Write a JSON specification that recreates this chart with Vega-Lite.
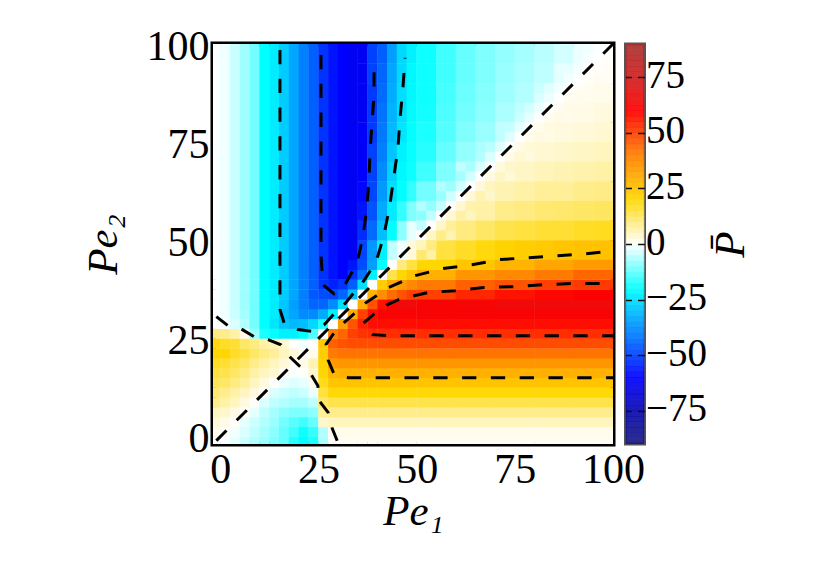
{"$schema":"https://vega.github.io/schema/vega-lite/v6.json","background":"white","padding":{"left":79,"top":22,"right":0,"bottom":0},"bounds":"flush","spacing":12.5,"config":{"view":{"stroke":null},"font":"Liberation Serif"},
"datasets":{
"fine":[
{"x":-1.25,"y":-1.25,"v":0.3},{"x":1.25,"y":-1.25,"v":-0.5},{"x":3.75,"y":-1.25,"v":-2},{"x":6.25,"y":-1.25,"v":-4},{"x":8.75,"y":-1.25,"v":-6},{"x":11.25,"y":-1.25,"v":-8},{"x":13.75,"y":-1.25,"v":-10},{"x":16.25,"y":-1.25,"v":-12},{"x":18.75,"y":-1.25,"v":-17},{"x":21.25,"y":-1.25,"v":-20},{"x":23.75,"y":-1.25,"v":-18},{"x":26.25,"y":-1.25,"v":-6.5},{"x":28.75,"y":-1.25,"v":0.8},{"x":31.25,"y":-1.25,"v":1},{"x":33.75,"y":-1.25,"v":1},{"x":36.25,"y":-1.25,"v":1},{"x":38.75,"y":-1.25,"v":1},{"x":41.25,"y":-1.25,"v":1},{"x":43.75,"y":-1.25,"v":1},{"x":46.25,"y":-1.25,"v":1},{"x":48.75,"y":-1.25,"v":1},
{"x":-1.25,"y":1.25,"v":1},{"x":1.25,"y":1.25,"v":0.8},{"x":3.75,"y":1.25,"v":-1},{"x":6.25,"y":1.25,"v":-3},{"x":8.75,"y":1.25,"v":-5},{"x":11.25,"y":1.25,"v":-7},{"x":13.75,"y":1.25,"v":-9},{"x":16.25,"y":1.25,"v":-12},{"x":18.75,"y":1.25,"v":-15},{"x":21.25,"y":1.25,"v":-19},{"x":23.75,"y":1.25,"v":-16},{"x":26.25,"y":1.25,"v":-6},{"x":28.75,"y":1.25,"v":1.5},{"x":31.25,"y":1.25,"v":1.5},{"x":33.75,"y":1.25,"v":1.5},{"x":36.25,"y":1.25,"v":1.5},{"x":38.75,"y":1.25,"v":1.5},{"x":41.25,"y":1.25,"v":1.5},{"x":43.75,"y":1.25,"v":1.5},{"x":46.25,"y":1.25,"v":1.5},{"x":48.75,"y":1.25,"v":1.5},
{"x":-1.25,"y":3.75,"v":3},{"x":1.25,"y":3.75,"v":1.8},{"x":3.75,"y":3.75,"v":0.5},{"x":6.25,"y":3.75,"v":-2},{"x":8.75,"y":3.75,"v":-4},{"x":11.25,"y":3.75,"v":-6},{"x":13.75,"y":3.75,"v":-8},{"x":16.25,"y":3.75,"v":-11},{"x":18.75,"y":3.75,"v":-13},{"x":21.25,"y":3.75,"v":-15},{"x":23.75,"y":3.75,"v":-12},{"x":26.25,"y":3.75,"v":4},{"x":28.75,"y":3.75,"v":5},{"x":31.25,"y":3.75,"v":5},{"x":33.75,"y":3.75,"v":5},{"x":36.25,"y":3.75,"v":5},{"x":38.75,"y":3.75,"v":5},{"x":41.25,"y":3.75,"v":5},{"x":43.75,"y":3.75,"v":5},{"x":46.25,"y":3.75,"v":5},{"x":48.75,"y":3.75,"v":5},
{"x":-1.25,"y":6.25,"v":5},{"x":1.25,"y":6.25,"v":4},{"x":3.75,"y":6.25,"v":2},{"x":6.25,"y":6.25,"v":0.6},{"x":8.75,"y":6.25,"v":-2},{"x":11.25,"y":6.25,"v":-5},{"x":13.75,"y":6.25,"v":-7},{"x":16.25,"y":6.25,"v":-9},{"x":18.75,"y":6.25,"v":-10},{"x":21.25,"y":6.25,"v":-10},{"x":23.75,"y":6.25,"v":-9},{"x":26.25,"y":6.25,"v":8},{"x":28.75,"y":6.25,"v":9},{"x":31.25,"y":6.25,"v":9},{"x":33.75,"y":6.25,"v":9},{"x":36.25,"y":6.25,"v":9},{"x":38.75,"y":6.25,"v":9},{"x":41.25,"y":6.25,"v":9},{"x":43.75,"y":6.25,"v":9},{"x":46.25,"y":6.25,"v":9},{"x":48.75,"y":6.25,"v":9},
{"x":-1.25,"y":8.75,"v":9},{"x":1.25,"y":8.75,"v":7},{"x":3.75,"y":8.75,"v":5},{"x":6.25,"y":8.75,"v":2.5},{"x":8.75,"y":8.75,"v":0.5},{"x":11.25,"y":8.75,"v":-3},{"x":13.75,"y":8.75,"v":-5},{"x":16.25,"y":8.75,"v":-6},{"x":18.75,"y":8.75,"v":-7},{"x":21.25,"y":8.75,"v":-7},{"x":23.75,"y":8.75,"v":-5},{"x":26.25,"y":8.75,"v":12},{"x":28.75,"y":8.75,"v":14},{"x":31.25,"y":8.75,"v":14},{"x":33.75,"y":8.75,"v":14},{"x":36.25,"y":8.75,"v":14},{"x":38.75,"y":8.75,"v":14},{"x":41.25,"y":8.75,"v":14},{"x":43.75,"y":8.75,"v":14},{"x":46.25,"y":8.75,"v":14},{"x":48.75,"y":8.75,"v":14},
{"x":-1.25,"y":11.25,"v":11},{"x":1.25,"y":11.25,"v":9},{"x":3.75,"y":11.25,"v":7},{"x":6.25,"y":11.25,"v":5},{"x":8.75,"y":11.25,"v":2.5},{"x":11.25,"y":11.25,"v":0.5},{"x":13.75,"y":11.25,"v":-3},{"x":16.25,"y":11.25,"v":-4},{"x":18.75,"y":11.25,"v":-5},{"x":21.25,"y":11.25,"v":-4},{"x":23.75,"y":11.25,"v":-1.5},{"x":26.25,"y":11.25,"v":15},{"x":28.75,"y":11.25,"v":19.5},{"x":31.25,"y":11.25,"v":19.5},{"x":33.75,"y":11.25,"v":19.5},{"x":36.25,"y":11.25,"v":19.5},{"x":38.75,"y":11.25,"v":19.5},{"x":41.25,"y":11.25,"v":19.5},{"x":43.75,"y":11.25,"v":19.5},{"x":46.25,"y":11.25,"v":19.5},{"x":48.75,"y":11.25,"v":19.5},
{"x":-1.25,"y":13.75,"v":13},{"x":1.25,"y":13.75,"v":12},{"x":3.75,"y":13.75,"v":10},{"x":6.25,"y":13.75,"v":8},{"x":8.75,"y":13.75,"v":5},{"x":11.25,"y":13.75,"v":2.5},{"x":13.75,"y":13.75,"v":0.5},{"x":16.25,"y":13.75,"v":-1.5},{"x":18.75,"y":13.75,"v":-2.5},{"x":21.25,"y":13.75,"v":-2},{"x":23.75,"y":13.75,"v":1.5},{"x":26.25,"y":13.75,"v":18},{"x":28.75,"y":13.75,"v":24},{"x":31.25,"y":13.75,"v":24.5},{"x":33.75,"y":13.75,"v":24.5},{"x":36.25,"y":13.75,"v":24.5},{"x":38.75,"y":13.75,"v":24.5},{"x":41.25,"y":13.75,"v":24.5},{"x":43.75,"y":13.75,"v":24.5},{"x":46.25,"y":13.75,"v":24.5},{"x":48.75,"y":13.75,"v":24.5},
{"x":-1.25,"y":16.25,"v":15},{"x":1.25,"y":16.25,"v":14},{"x":3.75,"y":16.25,"v":12},{"x":6.25,"y":16.25,"v":10},{"x":8.75,"y":16.25,"v":7},{"x":11.25,"y":16.25,"v":5},{"x":13.75,"y":16.25,"v":3.5},{"x":16.25,"y":16.25,"v":1},{"x":18.75,"y":16.25,"v":-0.5},{"x":21.25,"y":16.25,"v":0.5},{"x":23.75,"y":16.25,"v":4},{"x":26.25,"y":16.25,"v":20},{"x":28.75,"y":16.25,"v":28},{"x":31.25,"y":16.25,"v":29},{"x":33.75,"y":16.25,"v":29},{"x":36.25,"y":16.25,"v":29},{"x":38.75,"y":16.25,"v":29},{"x":41.25,"y":16.25,"v":29},{"x":43.75,"y":16.25,"v":29},{"x":46.25,"y":16.25,"v":29},{"x":48.75,"y":16.25,"v":29},
{"x":-1.25,"y":18.75,"v":17},{"x":1.25,"y":18.75,"v":16},{"x":3.75,"y":18.75,"v":14},{"x":6.25,"y":18.75,"v":12},{"x":8.75,"y":18.75,"v":9},{"x":11.25,"y":18.75,"v":7},{"x":13.75,"y":18.75,"v":5},{"x":16.25,"y":18.75,"v":3},{"x":18.75,"y":18.75,"v":0.5},{"x":21.25,"y":18.75,"v":2},{"x":23.75,"y":18.75,"v":6},{"x":26.25,"y":18.75,"v":21},{"x":28.75,"y":18.75,"v":34},{"x":31.25,"y":18.75,"v":35},{"x":33.75,"y":18.75,"v":35},{"x":36.25,"y":18.75,"v":35},{"x":38.75,"y":18.75,"v":35},{"x":41.25,"y":18.75,"v":35},{"x":43.75,"y":18.75,"v":35},{"x":46.25,"y":18.75,"v":35},{"x":48.75,"y":18.75,"v":35},
{"x":-1.25,"y":21.25,"v":20},{"x":1.25,"y":21.25,"v":20},{"x":3.75,"y":21.25,"v":17},{"x":6.25,"y":21.25,"v":15},{"x":8.75,"y":21.25,"v":12},{"x":11.25,"y":21.25,"v":10},{"x":13.75,"y":21.25,"v":8},{"x":16.25,"y":21.25,"v":5},{"x":18.75,"y":21.25,"v":3},{"x":21.25,"y":21.25,"v":0.3},{"x":23.75,"y":21.25,"v":1.5},{"x":26.25,"y":21.25,"v":22},{"x":28.75,"y":21.25,"v":41},{"x":31.25,"y":21.25,"v":42},{"x":33.75,"y":21.25,"v":42},{"x":36.25,"y":21.25,"v":42},{"x":38.75,"y":21.25,"v":42},{"x":41.25,"y":21.25,"v":42},{"x":43.75,"y":21.25,"v":42},{"x":46.25,"y":21.25,"v":42},{"x":48.75,"y":21.25,"v":42},
{"x":-1.25,"y":23.75,"v":19},{"x":1.25,"y":23.75,"v":17},{"x":3.75,"y":23.75,"v":16},{"x":6.25,"y":23.75,"v":12},{"x":8.75,"y":23.75,"v":10},{"x":11.25,"y":23.75,"v":7},{"x":13.75,"y":23.75,"v":6},{"x":16.25,"y":23.75,"v":3.5},{"x":18.75,"y":23.75,"v":0.3},{"x":21.25,"y":23.75,"v":-1},{"x":23.75,"y":23.75,"v":0.3},{"x":26.25,"y":23.75,"v":23},{"x":28.75,"y":23.75,"v":45},{"x":31.25,"y":23.75,"v":47},{"x":33.75,"y":23.75,"v":48},{"x":36.25,"y":23.75,"v":48},{"x":38.75,"y":23.75,"v":48},{"x":41.25,"y":23.75,"v":48},{"x":43.75,"y":23.75,"v":48},{"x":46.25,"y":23.75,"v":48},{"x":48.75,"y":23.75,"v":48},
{"x":-1.25,"y":26.25,"v":10},{"x":1.25,"y":26.25,"v":9},{"x":3.75,"y":26.25,"v":7},{"x":6.25,"y":26.25,"v":2},{"x":8.75,"y":26.25,"v":-8},{"x":11.25,"y":26.25,"v":-18},{"x":13.75,"y":26.25,"v":-20},{"x":16.25,"y":26.25,"v":-22},{"x":18.75,"y":26.25,"v":-22},{"x":21.25,"y":26.25,"v":-20},{"x":23.75,"y":26.25,"v":-14},{"x":26.25,"y":26.25,"v":0},{"x":28.75,"y":26.25,"v":40},{"x":31.25,"y":26.25,"v":44},{"x":33.75,"y":26.25,"v":50},{"x":36.25,"y":26.25,"v":52},{"x":38.75,"y":26.25,"v":53},{"x":41.25,"y":26.25,"v":53},{"x":43.75,"y":26.25,"v":53},{"x":46.25,"y":26.25,"v":53},{"x":48.75,"y":26.25,"v":53},
{"x":-1.25,"y":28.75,"v":0.3},{"x":1.25,"y":28.75,"v":-0.5},{"x":3.75,"y":28.75,"v":-3},{"x":6.25,"y":28.75,"v":-6},{"x":8.75,"y":28.75,"v":-11},{"x":11.25,"y":28.75,"v":-20},{"x":13.75,"y":28.75,"v":-24},{"x":16.25,"y":28.75,"v":-29},{"x":18.75,"y":28.75,"v":-31},{"x":21.25,"y":28.75,"v":-30},{"x":23.75,"y":28.75,"v":-26},{"x":26.25,"y":28.75,"v":-18},{"x":28.75,"y":28.75,"v":0},{"x":31.25,"y":28.75,"v":33},{"x":33.75,"y":28.75,"v":47},{"x":36.25,"y":28.75,"v":55},{"x":38.75,"y":28.75,"v":58},{"x":41.25,"y":28.75,"v":58},{"x":43.75,"y":28.75,"v":58},{"x":46.25,"y":28.75,"v":58},{"x":48.75,"y":28.75,"v":58},
{"x":-1.25,"y":31.25,"v":-0.3},{"x":1.25,"y":31.25,"v":-1.2},{"x":3.75,"y":31.25,"v":-4},{"x":6.25,"y":31.25,"v":-7},{"x":8.75,"y":31.25,"v":-11},{"x":11.25,"y":31.25,"v":-20},{"x":13.75,"y":31.25,"v":-23},{"x":16.25,"y":31.25,"v":-30},{"x":18.75,"y":31.25,"v":-34},{"x":21.25,"y":31.25,"v":-38},{"x":23.75,"y":31.25,"v":-38},{"x":26.25,"y":31.25,"v":-33},{"x":28.75,"y":31.25,"v":-22},{"x":31.25,"y":31.25,"v":0},{"x":33.75,"y":31.25,"v":30},{"x":36.25,"y":31.25,"v":50},{"x":38.75,"y":31.25,"v":58},{"x":41.25,"y":31.25,"v":61},{"x":43.75,"y":31.25,"v":62},{"x":46.25,"y":31.25,"v":62},{"x":48.75,"y":31.25,"v":62},
{"x":-1.25,"y":33.75,"v":-0.3},{"x":1.25,"y":33.75,"v":-1.2},{"x":3.75,"y":33.75,"v":-4.3},{"x":6.25,"y":33.75,"v":-7.5},{"x":8.75,"y":33.75,"v":-11},{"x":11.25,"y":33.75,"v":-20},{"x":13.75,"y":33.75,"v":-23},{"x":16.25,"y":33.75,"v":-29},{"x":18.75,"y":33.75,"v":-35},{"x":21.25,"y":33.75,"v":-40},{"x":23.75,"y":33.75,"v":-44},{"x":26.25,"y":33.75,"v":-44},{"x":28.75,"y":33.75,"v":-38},{"x":31.25,"y":33.75,"v":-25},{"x":33.75,"y":33.75,"v":0},{"x":36.25,"y":33.75,"v":30},{"x":38.75,"y":33.75,"v":47},{"x":41.25,"y":33.75,"v":57},{"x":43.75,"y":33.75,"v":62},{"x":46.25,"y":33.75,"v":64},{"x":48.75,"y":33.75,"v":64},
{"x":-1.25,"y":36.25,"v":-0.3},{"x":1.25,"y":36.25,"v":-1.2},{"x":3.75,"y":36.25,"v":-4.3},{"x":6.25,"y":36.25,"v":-7.5},{"x":8.75,"y":36.25,"v":-11},{"x":11.25,"y":36.25,"v":-20},{"x":13.75,"y":36.25,"v":-23},{"x":16.25,"y":36.25,"v":-28},{"x":18.75,"y":36.25,"v":-34},{"x":21.25,"y":36.25,"v":-40},{"x":23.75,"y":36.25,"v":-46},{"x":26.25,"y":36.25,"v":-48},{"x":28.75,"y":36.25,"v":-49},{"x":31.25,"y":36.25,"v":-44},{"x":33.75,"y":36.25,"v":-30},{"x":36.25,"y":36.25,"v":0},{"x":38.75,"y":36.25,"v":28},{"x":41.25,"y":36.25,"v":37},{"x":43.75,"y":36.25,"v":43},{"x":46.25,"y":36.25,"v":47},{"x":48.75,"y":36.25,"v":50},
{"x":-1.25,"y":38.75,"v":-0.3},{"x":1.25,"y":38.75,"v":-1.2},{"x":3.75,"y":38.75,"v":-4.3},{"x":6.25,"y":38.75,"v":-7.5},{"x":8.75,"y":38.75,"v":-11},{"x":11.25,"y":38.75,"v":-20},{"x":13.75,"y":38.75,"v":-23},{"x":16.25,"y":38.75,"v":-28},{"x":18.75,"y":38.75,"v":-34},{"x":21.25,"y":38.75,"v":-40},{"x":23.75,"y":38.75,"v":-45},{"x":26.25,"y":38.75,"v":-52},{"x":28.75,"y":38.75,"v":-55},{"x":31.25,"y":38.75,"v":-52},{"x":33.75,"y":38.75,"v":-45},{"x":36.25,"y":38.75,"v":-25},{"x":38.75,"y":38.75,"v":0},{"x":41.25,"y":38.75,"v":22},{"x":43.75,"y":38.75,"v":30},{"x":46.25,"y":38.75,"v":34},{"x":48.75,"y":38.75,"v":38},
{"x":-1.25,"y":41.25,"v":-0.3},{"x":1.25,"y":41.25,"v":-1.2},{"x":3.75,"y":41.25,"v":-4.3},{"x":6.25,"y":41.25,"v":-7.5},{"x":8.75,"y":41.25,"v":-11},{"x":11.25,"y":41.25,"v":-20},{"x":13.75,"y":41.25,"v":-23},{"x":16.25,"y":41.25,"v":-28},{"x":18.75,"y":41.25,"v":-34},{"x":21.25,"y":41.25,"v":-40},{"x":23.75,"y":41.25,"v":-45},{"x":26.25,"y":41.25,"v":-52},{"x":28.75,"y":41.25,"v":-57},{"x":31.25,"y":41.25,"v":-60},{"x":33.75,"y":41.25,"v":-53},{"x":36.25,"y":41.25,"v":-42},{"x":38.75,"y":41.25,"v":-22},{"x":41.25,"y":41.25,"v":0},{"x":43.75,"y":41.25,"v":14},{"x":46.25,"y":41.25,"v":20},{"x":48.75,"y":41.25,"v":24},
{"x":-1.25,"y":43.75,"v":-0.3},{"x":1.25,"y":43.75,"v":-1.2},{"x":3.75,"y":43.75,"v":-4.3},{"x":6.25,"y":43.75,"v":-7.5},{"x":8.75,"y":43.75,"v":-11},{"x":11.25,"y":43.75,"v":-20},{"x":13.75,"y":43.75,"v":-23},{"x":16.25,"y":43.75,"v":-28},{"x":18.75,"y":43.75,"v":-34},{"x":21.25,"y":43.75,"v":-40},{"x":23.75,"y":43.75,"v":-45},{"x":26.25,"y":43.75,"v":-52},{"x":28.75,"y":43.75,"v":-57},{"x":31.25,"y":43.75,"v":-60},{"x":33.75,"y":43.75,"v":-57},{"x":36.25,"y":43.75,"v":-48},{"x":38.75,"y":43.75,"v":-35},{"x":41.25,"y":43.75,"v":-20},{"x":43.75,"y":43.75,"v":0},{"x":46.25,"y":43.75,"v":10},{"x":48.75,"y":43.75,"v":15},
{"x":51.25,"y":56.25,"v":-9},{"x":51.25,"y":53.75,"v":-5},{"x":51.25,"y":51.25,"v":0},{"x":51.25,"y":48.75,"v":5},{"x":51.25,"y":46.25,"v":11},
{"x":53.75,"y":58.75,"v":-8.5},{"x":53.75,"y":56.25,"v":-5},{"x":53.75,"y":53.75,"v":0},{"x":53.75,"y":51.25,"v":4.5},{"x":53.75,"y":48.75,"v":10},
{"x":56.25,"y":61.25,"v":-8},{"x":56.25,"y":58.75,"v":-4.5},{"x":56.25,"y":56.25,"v":0},{"x":56.25,"y":53.75,"v":4},{"x":56.25,"y":51.25,"v":9},
{"x":58.75,"y":63.75,"v":-7.5},{"x":58.75,"y":61.25,"v":-4},{"x":58.75,"y":58.75,"v":0},{"x":58.75,"y":56.25,"v":3.5},{"x":58.75,"y":53.75,"v":8},
{"x":61.25,"y":66.25,"v":-7},{"x":61.25,"y":63.75,"v":-3.5},{"x":61.25,"y":61.25,"v":0},{"x":61.25,"y":58.75,"v":3.5},{"x":61.25,"y":56.25,"v":7},
{"x":63.75,"y":68.75,"v":-6.5},{"x":63.75,"y":66.25,"v":-3.5},{"x":63.75,"y":63.75,"v":0},{"x":63.75,"y":61.25,"v":3},{"x":63.75,"y":58.75,"v":6.5},
{"x":66.25,"y":71.25,"v":-6},{"x":66.25,"y":68.75,"v":-3},{"x":66.25,"y":66.25,"v":0},{"x":66.25,"y":63.75,"v":3},{"x":66.25,"y":61.25,"v":6},
{"x":68.75,"y":73.75,"v":-5.5},{"x":68.75,"y":71.25,"v":-3},{"x":68.75,"y":68.75,"v":0},{"x":68.75,"y":66.25,"v":2.5},{"x":68.75,"y":63.75,"v":5},
{"x":71.25,"y":76.25,"v":-5},{"x":71.25,"y":73.75,"v":-2.5},{"x":71.25,"y":71.25,"v":0},{"x":71.25,"y":68.75,"v":2.5},{"x":71.25,"y":66.25,"v":4.5},
{"x":73.75,"y":78.75,"v":-4.5},{"x":73.75,"y":76.25,"v":-2.5},{"x":73.75,"y":73.75,"v":0},{"x":73.75,"y":71.25,"v":2},{"x":73.75,"y":68.75,"v":4},
{"x":76.25,"y":81.25,"v":-4},{"x":76.25,"y":78.75,"v":-2},{"x":76.25,"y":76.25,"v":0},{"x":76.25,"y":73.75,"v":2},{"x":76.25,"y":71.25,"v":3.5},
{"x":78.75,"y":83.75,"v":-3.5},{"x":78.75,"y":81.25,"v":-2},{"x":78.75,"y":78.75,"v":0},{"x":78.75,"y":76.25,"v":1.5},{"x":78.75,"y":73.75,"v":3},
{"x":81.25,"y":86.25,"v":-3},{"x":81.25,"y":83.75,"v":-1.5},{"x":81.25,"y":81.25,"v":0},{"x":81.25,"y":78.75,"v":1.5},{"x":81.25,"y":76.25,"v":2.5},
{"x":83.75,"y":88.75,"v":-2.5},{"x":83.75,"y":86.25,"v":-1.5},{"x":83.75,"y":83.75,"v":0},{"x":83.75,"y":81.25,"v":1.2},{"x":83.75,"y":78.75,"v":2.2},
{"x":86.25,"y":91.25,"v":-2.2},{"x":86.25,"y":88.75,"v":-1.2},{"x":86.25,"y":86.25,"v":0},{"x":86.25,"y":83.75,"v":1},{"x":86.25,"y":81.25,"v":2},
{"x":88.75,"y":93.75,"v":-2},{"x":88.75,"y":91.25,"v":-1},{"x":88.75,"y":88.75,"v":0},{"x":88.75,"y":86.25,"v":1},{"x":88.75,"y":83.75,"v":1.8},
{"x":91.25,"y":96.25,"v":-1.5},{"x":91.25,"y":93.75,"v":-0.8},{"x":91.25,"y":91.25,"v":0},{"x":91.25,"y":88.75,"v":0.8},{"x":91.25,"y":86.25,"v":1.5},
{"x":93.75,"y":98.75,"v":-1},{"x":93.75,"y":96.25,"v":-0.5},{"x":93.75,"y":93.75,"v":0},{"x":93.75,"y":91.25,"v":0.6},{"x":93.75,"y":88.75,"v":1.2},
{"x":96.25,"y":98.75,"v":-0.4},{"x":96.25,"y":96.25,"v":0},{"x":96.25,"y":93.75,"v":0.5},{"x":96.25,"y":91.25,"v":1},
{"x":98.75,"y":98.75,"v":0},{"x":98.75,"y":96.25,"v":0.4},{"x":98.75,"y":93.75,"v":0.8}
],
"strip":[{"x":-1.25,"y":72.5,"v":-0.3},{"x":1.25,"y":72.5,"v":-1.2},{"x":3.75,"y":72.5,"v":-4.3},{"x":6.25,"y":72.5,"v":-7.5},{"x":8.75,"y":72.5,"v":-11},{"x":11.25,"y":72.5,"v":-20},{"x":13.75,"y":72.5,"v":-23},{"x":16.25,"y":72.5,"v":-28},{"x":18.75,"y":72.5,"v":-34},{"x":21.25,"y":72.5,"v":-40},{"x":23.75,"y":72.5,"v":-45},{"x":26.25,"y":72.5,"v":-52},{"x":28.75,"y":72.5,"v":-57},{"x":31.25,"y":72.5,"v":-60},{"x":33.75,"y":72.5,"v":-62}],
"mid":[
{"x":36.25,"y":47.5,"v":-49},{"x":38.75,"y":47.5,"v":-36},{"x":41.25,"y":47.5,"v":-22},{"x":43.75,"y":47.5,"v":-5},{"x":46.25,"y":47.5,"v":-1},{"x":48.75,"y":47.5,"v":3},
{"x":36.25,"y":52.5,"v":-53},{"x":38.75,"y":52.5,"v":-43},{"x":41.25,"y":52.5,"v":-30},{"x":43.75,"y":52.5,"v":-20},{"x":46.25,"y":52.5,"v":-9},{"x":48.75,"y":52.5,"v":-2},
{"x":36.25,"y":57.5,"v":-57},{"x":38.75,"y":57.5,"v":-47},{"x":41.25,"y":57.5,"v":-33},{"x":43.75,"y":57.5,"v":-23},{"x":46.25,"y":57.5,"v":-16},{"x":48.75,"y":57.5,"v":-10},
{"x":36.25,"y":62.5,"v":-59},{"x":38.75,"y":62.5,"v":-49},{"x":41.25,"y":62.5,"v":-36},{"x":43.75,"y":62.5,"v":-25},{"x":46.25,"y":62.5,"v":-20},{"x":48.75,"y":62.5,"v":-16},
{"x":36.25,"y":67.5,"v":-60},{"x":38.75,"y":67.5,"v":-50},{"x":41.25,"y":67.5,"v":-38},{"x":43.75,"y":67.5,"v":-27},{"x":46.25,"y":67.5,"v":-21},{"x":48.75,"y":67.5,"v":-19},
{"x":36.25,"y":72.5,"v":-61},{"x":38.75,"y":72.5,"v":-50},{"x":41.25,"y":72.5,"v":-40},{"x":43.75,"y":72.5,"v":-29},{"x":46.25,"y":72.5,"v":-22},{"x":48.75,"y":72.5,"v":-19.5},
{"x":36.25,"y":77.5,"v":-61},{"x":38.75,"y":77.5,"v":-51},{"x":41.25,"y":77.5,"v":-41},{"x":43.75,"y":77.5,"v":-31},{"x":46.25,"y":77.5,"v":-24},{"x":48.75,"y":77.5,"v":-20},
{"x":36.25,"y":82.5,"v":-62},{"x":38.75,"y":82.5,"v":-51},{"x":41.25,"y":82.5,"v":-42},{"x":43.75,"y":82.5,"v":-32},{"x":46.25,"y":82.5,"v":-25},{"x":48.75,"y":82.5,"v":-20.5},
{"x":36.25,"y":87.5,"v":-62},{"x":38.75,"y":87.5,"v":-51},{"x":41.25,"y":87.5,"v":-43},{"x":43.75,"y":87.5,"v":-33},{"x":46.25,"y":87.5,"v":-25},{"x":48.75,"y":87.5,"v":-21},
{"x":36.25,"y":92.5,"v":-62},{"x":38.75,"y":92.5,"v":-50},{"x":41.25,"y":92.5,"v":-44},{"x":43.75,"y":92.5,"v":-34},{"x":46.25,"y":92.5,"v":-26},{"x":48.75,"y":92.5,"v":-21},
{"x":36.25,"y":97.5,"v":-62},{"x":38.75,"y":97.5,"v":-50},{"x":41.25,"y":97.5,"v":-45},{"x":43.75,"y":97.5,"v":-35},{"x":46.25,"y":97.5,"v":-26},{"x":48.75,"y":97.5,"v":-22}
],
"med":[
{"x":52.5,"y":97.5,"v":-19},{"x":52.5,"y":92.5,"v":-19},{"x":52.5,"y":87.5,"v":-19},{"x":52.5,"y":82.5,"v":-18.5},{"x":52.5,"y":77.5,"v":-18},{"x":52.5,"y":72.5,"v":-17},{"x":52.5,"y":67.5,"v":-15},{"x":52.5,"y":62.5,"v":-11},{"x":52.5,"y":57.5,"v":-6},{"x":52.5,"y":52.5,"v":0},{"x":52.5,"y":47.5,"v":7},
{"x":57.5,"y":97.5,"v":-15},{"x":57.5,"y":92.5,"v":-15},{"x":57.5,"y":87.5,"v":-14.5},{"x":57.5,"y":82.5,"v":-14},{"x":57.5,"y":77.5,"v":-13.5},{"x":57.5,"y":72.5,"v":-12},{"x":57.5,"y":67.5,"v":-10},{"x":57.5,"y":62.5,"v":-6},{"x":57.5,"y":57.5,"v":0},{"x":57.5,"y":52.5,"v":6},{"x":57.5,"y":47.5,"v":15},
{"x":62.5,"y":97.5,"v":-12},{"x":62.5,"y":92.5,"v":-12},{"x":62.5,"y":87.5,"v":-11.5},{"x":62.5,"y":82.5,"v":-11},{"x":62.5,"y":77.5,"v":-10},{"x":62.5,"y":72.5,"v":-8.5},{"x":62.5,"y":67.5,"v":-5},{"x":62.5,"y":62.5,"v":0},{"x":62.5,"y":57.5,"v":5},{"x":62.5,"y":52.5,"v":10},{"x":62.5,"y":47.5,"v":17},
{"x":67.5,"y":97.5,"v":-10},{"x":67.5,"y":92.5,"v":-10},{"x":67.5,"y":87.5,"v":-9.5},{"x":67.5,"y":82.5,"v":-9},{"x":67.5,"y":77.5,"v":-8},{"x":67.5,"y":72.5,"v":-6.5},{"x":67.5,"y":67.5,"v":0},{"x":67.5,"y":62.5,"v":4},{"x":67.5,"y":57.5,"v":7},{"x":67.5,"y":52.5,"v":12},{"x":67.5,"y":47.5,"v":19},
{"x":72.5,"y":97.5,"v":-8.5},{"x":72.5,"y":92.5,"v":-8},{"x":72.5,"y":87.5,"v":-7.5},{"x":72.5,"y":82.5,"v":-6.5},{"x":72.5,"y":77.5,"v":-5},{"x":72.5,"y":72.5,"v":0},{"x":72.5,"y":67.5,"v":3},{"x":72.5,"y":62.5,"v":6},{"x":72.5,"y":57.5,"v":9},{"x":72.5,"y":52.5,"v":14},{"x":72.5,"y":47.5,"v":21},
{"x":77.5,"y":97.5,"v":-7},{"x":77.5,"y":92.5,"v":-6.5},{"x":77.5,"y":87.5,"v":-6},{"x":77.5,"y":82.5,"v":-5},{"x":77.5,"y":77.5,"v":0},{"x":77.5,"y":72.5,"v":2.5},{"x":77.5,"y":67.5,"v":4.5},{"x":77.5,"y":62.5,"v":7},{"x":77.5,"y":57.5,"v":10},{"x":77.5,"y":52.5,"v":15},{"x":77.5,"y":47.5,"v":22},
{"x":82.5,"y":97.5,"v":-5.5},{"x":82.5,"y":92.5,"v":-5},{"x":82.5,"y":87.5,"v":-4},{"x":82.5,"y":82.5,"v":0},{"x":82.5,"y":77.5,"v":2},{"x":82.5,"y":72.5,"v":3.5},{"x":82.5,"y":67.5,"v":5.5},{"x":82.5,"y":62.5,"v":8},{"x":82.5,"y":57.5,"v":11},{"x":82.5,"y":52.5,"v":16},{"x":82.5,"y":47.5,"v":23},
{"x":87.5,"y":97.5,"v":-3.5},{"x":87.5,"y":92.5,"v":-2},{"x":87.5,"y":87.5,"v":0},{"x":87.5,"y":82.5,"v":1.5},{"x":87.5,"y":77.5,"v":2.5},{"x":87.5,"y":72.5,"v":4},{"x":87.5,"y":67.5,"v":6},{"x":87.5,"y":62.5,"v":8},{"x":87.5,"y":57.5,"v":11.5},{"x":87.5,"y":52.5,"v":16},{"x":87.5,"y":47.5,"v":24},
{"x":92.5,"y":97.5,"v":-1.5},{"x":92.5,"y":92.5,"v":0},{"x":92.5,"y":87.5,"v":1.2},{"x":92.5,"y":82.5,"v":2},{"x":92.5,"y":77.5,"v":3},{"x":92.5,"y":72.5,"v":4.5},{"x":92.5,"y":67.5,"v":6.5},{"x":92.5,"y":62.5,"v":9},{"x":92.5,"y":57.5,"v":12},{"x":92.5,"y":52.5,"v":17},{"x":92.5,"y":47.5,"v":25},
{"x":97.5,"y":97.5,"v":0},{"x":97.5,"y":92.5,"v":0.8},{"x":97.5,"y":87.5,"v":1.5},{"x":97.5,"y":82.5,"v":2.5},{"x":97.5,"y":77.5,"v":3.5},{"x":97.5,"y":72.5,"v":5},{"x":97.5,"y":67.5,"v":7},{"x":97.5,"y":62.5,"v":9.5},{"x":97.5,"y":57.5,"v":12.5},{"x":97.5,"y":52.5,"v":17.5},{"x":97.5,"y":47.5,"v":25}
],
"low":[
{"x":55,"y":-1.25,"v":1},{"x":65,"y":-1.25,"v":1},{"x":75,"y":-1.25,"v":1},{"x":85,"y":-1.25,"v":1},{"x":95,"y":-1.25,"v":1},
{"x":55,"y":1.25,"v":1.5},{"x":65,"y":1.25,"v":1.5},{"x":75,"y":1.25,"v":1.5},{"x":85,"y":1.25,"v":1.5},{"x":95,"y":1.25,"v":1.5},
{"x":55,"y":3.75,"v":5},{"x":65,"y":3.75,"v":5},{"x":75,"y":3.75,"v":5},{"x":85,"y":3.75,"v":5},{"x":95,"y":3.75,"v":5},
{"x":55,"y":6.25,"v":9},{"x":65,"y":6.25,"v":9},{"x":75,"y":6.25,"v":9},{"x":85,"y":6.25,"v":9},{"x":95,"y":6.25,"v":9},
{"x":55,"y":8.75,"v":14},{"x":65,"y":8.75,"v":14},{"x":75,"y":8.75,"v":14},{"x":85,"y":8.75,"v":14},{"x":95,"y":8.75,"v":14},
{"x":55,"y":11.25,"v":19.5},{"x":65,"y":11.25,"v":19.5},{"x":75,"y":11.25,"v":19.5},{"x":85,"y":11.25,"v":19.5},{"x":95,"y":11.25,"v":19.5},
{"x":55,"y":13.75,"v":24.5},{"x":65,"y":13.75,"v":24.5},{"x":75,"y":13.75,"v":24.5},{"x":85,"y":13.75,"v":24.5},{"x":95,"y":13.75,"v":24.5},
{"x":55,"y":16.25,"v":29},{"x":65,"y":16.25,"v":29},{"x":75,"y":16.25,"v":29},{"x":85,"y":16.25,"v":29},{"x":95,"y":16.25,"v":29},
{"x":55,"y":18.75,"v":35},{"x":65,"y":18.75,"v":35},{"x":75,"y":18.75,"v":35},{"x":85,"y":18.75,"v":35},{"x":95,"y":18.75,"v":35},
{"x":55,"y":21.25,"v":42},{"x":65,"y":21.25,"v":42},{"x":75,"y":21.25,"v":42},{"x":85,"y":21.25,"v":42},{"x":95,"y":21.25,"v":42},
{"x":55,"y":23.75,"v":48},{"x":65,"y":23.75,"v":48},{"x":75,"y":23.75,"v":48},{"x":85,"y":23.75,"v":48},{"x":95,"y":23.75,"v":48},
{"x":55,"y":26.25,"v":53},{"x":65,"y":26.25,"v":53},{"x":75,"y":26.25,"v":53},{"x":85,"y":26.25,"v":53},{"x":95,"y":26.25,"v":53},
{"x":55,"y":28.75,"v":58},{"x":65,"y":28.75,"v":58},{"x":75,"y":28.75,"v":58},{"x":85,"y":28.75,"v":58},{"x":95,"y":28.75,"v":58},
{"x":55,"y":31.25,"v":62},{"x":65,"y":31.25,"v":62},{"x":75,"y":31.25,"v":62},{"x":85,"y":31.25,"v":62},{"x":95,"y":31.25,"v":62},
{"x":55,"y":33.75,"v":62},{"x":65,"y":33.75,"v":63},{"x":75,"y":33.75,"v":64},{"x":85,"y":33.75,"v":64},{"x":95,"y":33.75,"v":64},
{"x":55,"y":36.25,"v":50},{"x":65,"y":36.25,"v":54},{"x":75,"y":36.25,"v":57},{"x":85,"y":36.25,"v":59},{"x":95,"y":36.25,"v":60},
{"x":55,"y":38.75,"v":41},{"x":65,"y":38.75,"v":45},{"x":75,"y":38.75,"v":47},{"x":85,"y":38.75,"v":50},{"x":95,"y":38.75,"v":51},
{"x":55,"y":41.25,"v":29},{"x":65,"y":41.25,"v":35},{"x":75,"y":41.25,"v":38},{"x":85,"y":41.25,"v":41},{"x":95,"y":41.25,"v":44},
{"x":55,"y":43.75,"v":20},{"x":65,"y":43.75,"v":24},{"x":75,"y":43.75,"v":28},{"x":85,"y":43.75,"v":31},{"x":95,"y":43.75,"v":34}
],
"lines":[
{"g":"d","o":1,"x":-1,"y":-1},{"g":"d","o":2,"x":100,"y":100},
{"g":"a","o":1,"x":15.2,"y":98.5},{"g":"a","o":2,"x":15.2,"y":32.4},{"g":"a","o":3,"x":15.45,"y":31.6},{"g":"a","o":4,"x":16.25,"y":29},{"g":"a","o":5,"x":19.75,"y":27.3},{"g":"a","o":6,"x":23.65,"y":26.8},{"g":"a","o":7,"x":26.45,"y":28.5},{"g":"a","o":8,"x":28.95,"y":31.3},{"g":"a","o":9,"x":31.75,"y":33.9},{"g":"a","o":10,"x":34.05,"y":36.7},{"g":"a","o":11,"x":36.55,"y":39.7},{"g":"a","o":12,"x":38.35,"y":42.5},{"g":"a","o":13,"x":40.15,"y":46.1},{"g":"a","o":14,"x":41.65,"y":51.2},{"g":"a","o":15,"x":43.15,"y":58.8},{"g":"a","o":16,"x":44.25,"y":66.5},{"g":"a","o":17,"x":45.25,"y":73.6},{"g":"a","o":18,"x":45.75,"y":80.7},{"g":"a","o":19,"x":46.55,"y":89.4},{"g":"a","o":20,"x":47.05,"y":96.5},
{"g":"b","o":1,"x":25.65,"y":97.2},{"g":"b","o":2,"x":25.65,"y":46.1},{"g":"b","o":3,"x":25.9,"y":42.5},{"g":"b","o":4,"x":26.15,"y":38.7},{"g":"b","o":5,"x":28.95,"y":36.4},{"g":"b","o":6,"x":31.75,"y":38.7},{"g":"b","o":7,"x":33.75,"y":42.3},{"g":"b","o":8,"x":35.05,"y":45.1},{"g":"b","o":9,"x":36.35,"y":51.2},{"g":"b","o":10,"x":37.35,"y":58.3},{"g":"b","o":11,"x":37.85,"y":65.4},{"g":"b","o":12,"x":38.15,"y":72.8},{"g":"b","o":13,"x":38.65,"y":80},{"g":"b","o":14,"x":39.15,"y":87},{"g":"b","o":15,"x":39.15,"y":96.5},
{"g":"e","o":1,"x":96.8,"y":47},{"g":"e","o":2,"x":93.05,"y":46.6},{"g":"e","o":3,"x":85.95,"y":46.1},{"g":"e","o":4,"x":78.55,"y":45.6},{"g":"e","o":5,"x":71.15,"y":45.1},{"g":"e","o":6,"x":64.05,"y":43.8},{"g":"e","o":7,"x":56.65,"y":42.8},{"g":"e","o":8,"x":49.55,"y":41},{"g":"e","o":9,"x":42.95,"y":38},{"g":"e","o":10,"x":37.05,"y":34.1},{"g":"e","o":11,"x":34.05,"y":31.3},{"g":"e","o":12,"x":31.45,"y":29},{"g":"e","o":13,"x":28.65,"y":26},{"g":"e","o":14,"x":26.95,"y":23.5},{"g":"e","o":15,"x":27.45,"y":19.6},{"g":"e","o":16,"x":28.95,"y":16},{"g":"e","o":17,"x":32.55,"y":15.05},{"g":"e","o":18,"x":100,"y":15.05},
{"g":"f","o":1,"x":96.6,"y":39},{"g":"f","o":2,"x":89.25,"y":39},{"g":"f","o":3,"x":82.15,"y":38.7},{"g":"f","o":4,"x":74.75,"y":38.2},{"g":"f","o":5,"x":67.15,"y":38},{"g":"f","o":6,"x":59.95,"y":37.2},{"g":"f","o":7,"x":52.85,"y":36.7},{"g":"f","o":8,"x":49.35,"y":35.9},{"g":"f","o":9,"x":45.45,"y":34.9},{"g":"f","o":10,"x":42.45,"y":33.6},{"g":"f","o":11,"x":39.15,"y":31.3},{"g":"f","o":12,"x":36.35,"y":28.8},{"g":"f","o":13,"x":38.85,"y":26},{"g":"f","o":14,"x":42.95,"y":25.7},{"g":"f","o":15,"x":100,"y":25.7},
{"g":"z","o":1,"x":-1,"y":30.6},{"g":"z","o":2,"x":1.95,"y":28.3},{"g":"z","o":3,"x":5.25,"y":27.5},{"g":"z","o":4,"x":8.55,"y":25.5},{"g":"z","o":5,"x":12.15,"y":24.7},{"g":"z","o":6,"x":15.45,"y":23.4},{"g":"z","o":7,"x":17.45,"y":20.6},{"g":"z","o":8,"x":20.05,"y":18.1},{"g":"z","o":9,"x":23.05,"y":16},{"g":"z","o":10,"x":24.85,"y":13},{"g":"z","o":11,"x":25.15,"y":9.2},{"g":"z","o":12,"x":27.45,"y":6.2},{"g":"z","o":13,"x":28.45,"y":2.3},{"g":"z","o":14,"x":29.95,"y":-1.5}
],
"bar":[{"v":-88.75},{"v":-86.25},{"v":-83.75},{"v":-81.25},{"v":-78.75},{"v":-76.25},{"v":-73.75},{"v":-71.25},{"v":-68.75},{"v":-66.25},{"v":-63.75},{"v":-61.25},{"v":-58.75},{"v":-56.25},{"v":-53.75},{"v":-51.25},{"v":-48.75},{"v":-46.25},{"v":-43.75},{"v":-41.25},{"v":-38.75},{"v":-36.25},{"v":-33.75},{"v":-31.25},{"v":-28.75},{"v":-26.25},{"v":-23.75},{"v":-21.25},{"v":-18.75},{"v":-16.25},{"v":-13.75},{"v":-11.25},{"v":-8.75},{"v":-6.25},{"v":-3.75},{"v":-1.25},{"v":1.25},{"v":3.75},{"v":6.25},{"v":8.75},{"v":11.25},{"v":13.75},{"v":16.25},{"v":18.75},{"v":21.25},{"v":23.75},{"v":26.25},{"v":28.75},{"v":31.25},{"v":33.75},{"v":36.25},{"v":38.75},{"v":41.25},{"v":43.75},{"v":46.25},{"v":48.75},{"v":51.25},{"v":53.75},{"v":56.25},{"v":58.75},{"v":61.25},{"v":63.75},{"v":66.25},{"v":68.75},{"v":71.25},{"v":73.75},{"v":76.25},{"v":78.75},{"v":81.25},{"v":83.75},{"v":86.25},{"v":88.75}]
},
"hconcat":[
{"width":400,"height":400,"view":{"stroke":"black","strokeWidth":5},
"encoding":{
"x":{"field":"x","type":"quantitative","scale":{"domain":[-1.85,100],"nice":false,"zero":false},"axis":{"values":[0,25,50,75,100],"title":"Pe₁","grid":false,"ticks":false,"domain":false,"labelFont":"Liberation Serif","labelFontSize":42,"labelColor":"black","labelPadding":5,"labelAngle":0,"labelFlush":false,"labelBound":false,"labelOverlap":false,"titleFont":"Liberation Serif","titleFontSize":43,"titleFontStyle":"italic","titleFontWeight":"normal","titleColor":"black","titlePadding":0}},
"y":{"field":"y","type":"quantitative","scale":{"domain":[-1.85,100],"nice":false,"zero":false},"axis":{"values":[0,25,50,75,100],"title":"Pe₂","grid":false,"ticks":false,"domain":false,"labelFont":"Liberation Serif","labelFontSize":42,"labelColor":"black","labelPadding":4,"labelOffset":2,"labelFlush":false,"labelBound":false,"labelOverlap":false,"titleFont":"Liberation Serif","titleFontSize":43,"titleFontStyle":"italic","titleFontWeight":"normal","titleColor":"black","titlePadding":21}}
},
"layer":[
{"data":{"name":"strip"},"mark":{"type":"rect","width":10.2,"height":216.5,"clip":true},"encoding":{"color":{"field":"v","type":"quantitative","scale":{"domain":[-90,-75,-60,-20,0,20,40,60,75,90],"range":["#1a1a80","#0808b0","#0000ff","#00ffff","#ffffff","#ffd700","#ff8000","#ff0000","#d02020","#a83030"],"interpolate":"rgb"},"legend":null}}},
{"data":{"name":"mid"},"mark":{"type":"rect","width":10.2,"height":20,"clip":true},"encoding":{"color":{"field":"v","type":"quantitative","scale":{"domain":[-90,-75,-60,-20,0,20,40,60,75,90],"range":["#1a1a80","#0808b0","#0000ff","#00ffff","#ffffff","#ffd700","#ff8000","#ff0000","#d02020","#a83030"],"interpolate":"rgb"},"legend":null}}},
{"data":{"name":"med"},"mark":{"type":"rect","width":20,"height":20,"clip":true},"encoding":{"color":{"field":"v","type":"quantitative","scale":{"domain":[-90,-75,-60,-20,0,20,40,60,75,90],"range":["#1a1a80","#0808b0","#0000ff","#00ffff","#ffffff","#ffd700","#ff8000","#ff0000","#d02020","#a83030"],"interpolate":"rgb"},"legend":null}}},
{"data":{"name":"low"},"mark":{"type":"rect","width":39.8,"height":10.2,"clip":true},"encoding":{"color":{"field":"v","type":"quantitative","scale":{"domain":[-90,-75,-60,-20,0,20,40,60,75,90],"range":["#1a1a80","#0808b0","#0000ff","#00ffff","#ffffff","#ffd700","#ff8000","#ff0000","#d02020","#a83030"],"interpolate":"rgb"},"legend":null}}},
{"data":{"name":"fine"},"mark":{"type":"rect","width":10.2,"height":10.2,"clip":true},"encoding":{"color":{"field":"v","type":"quantitative","scale":{"domain":[-90,-75,-60,-20,0,20,40,60,75,90],"range":["#1a1a80","#0808b0","#0000ff","#00ffff","#ffffff","#ffd700","#ff8000","#ff0000","#d02020","#a83030"],"interpolate":"rgb"},"legend":null}}},
{"data":{"name":"lines"},"mark":{"type":"line","color":"black","strokeWidth":3,"strokeDash":[14.3,14.5],"clip":true},"encoding":{"detail":{"field":"g"},"order":{"field":"o","type":"quantitative"}}}
]},
{"width":19,"height":400,"view":{"stroke":"#555555","strokeWidth":3},"data":{"name":"bar"},"mark":{"type":"rect","height":6,"opacity":0.92,"clip":true},
"encoding":{
"y":{"field":"v","type":"quantitative","scale":{"domain":[-90,90],"nice":false,"zero":false},"axis":{"orient":"right","values":[-75,-50,-25,0,25,50,75],"labelExpr":"datum.value<0?datum.label:'\u00a0'+datum.label","title":"P̄","zindex":1,"grid":true,"gridColor":"#111111","gridDash":[7,6],"gridWidth":1.5,"ticks":false,"domain":false,"labelFont":"Liberation Serif","labelFontSize":39,"labelColor":"black","labelPadding":1,"labelOffset":-2,"labelOverlap":false,"labelFlush":false,"labelBound":false,"titleFont":"Liberation Serif","titleFontSize":43,"titleFontStyle":"italic","titleFontWeight":"normal","titleColor":"black","titleAngle":270,"titlePadding":46}},
"color":{"field":"v","type":"quantitative","scale":{"domain":[-90,-75,-60,-20,0,20,40,60,75,90],"range":["#1a1a80","#0808b0","#0000ff","#00ffff","#ffffff","#ffd700","#ff8000","#ff0000","#d02020","#a83030"],"interpolate":"rgb"},"legend":null}
}}
]}
